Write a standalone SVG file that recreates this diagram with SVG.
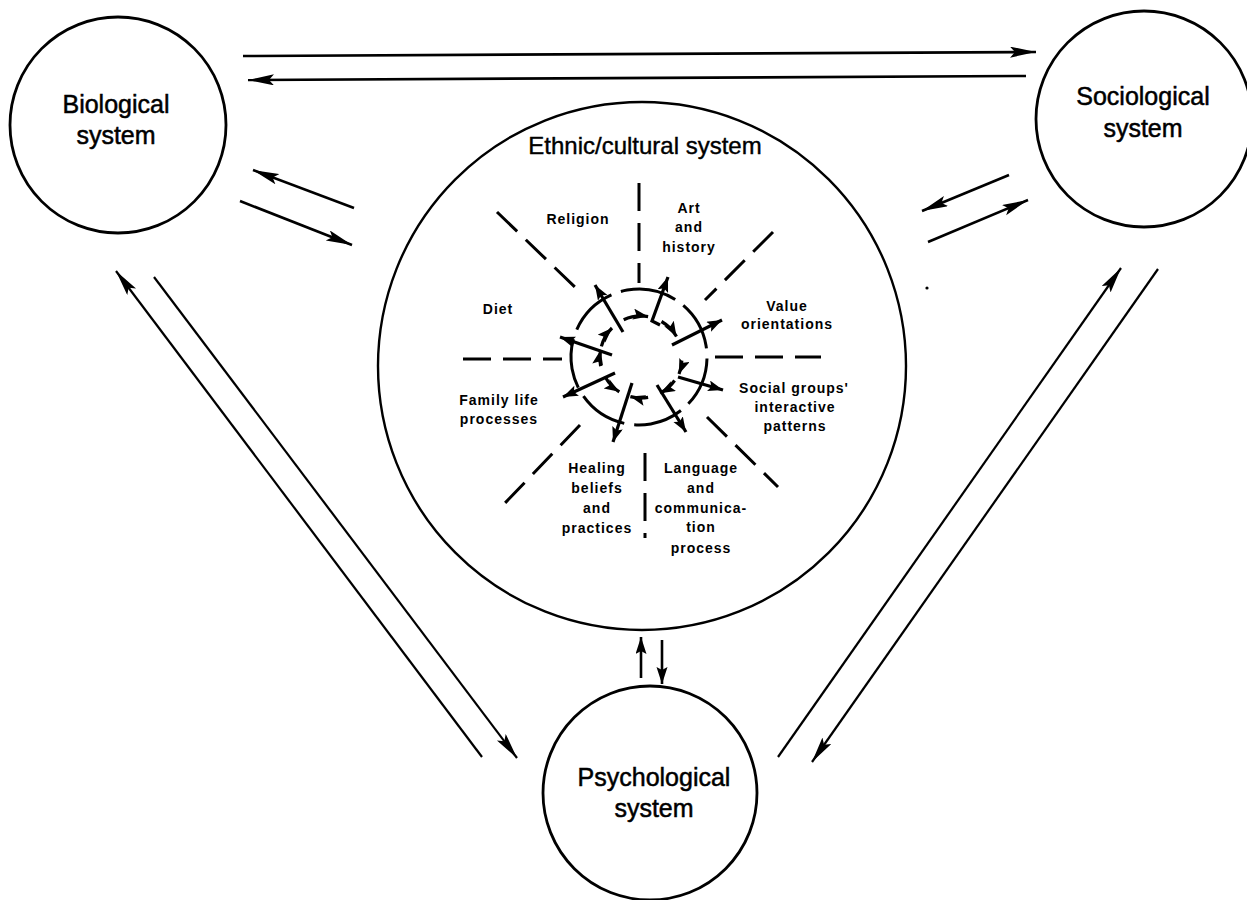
<svg xmlns="http://www.w3.org/2000/svg" width="1247" height="900" viewBox="0 0 1247 900">
<defs>
<style>
.node{fill:#fff;stroke:#000;stroke-width:2.8}
.big{font-family:"Liberation Sans",Arial,sans-serif;font-size:25px;fill:#000;stroke:#000;stroke-width:0.5;text-anchor:middle}
.title{font-family:"Liberation Sans",Arial,sans-serif;font-size:24px;fill:#000;stroke:#000;stroke-width:0.4;text-anchor:middle}
.lbl{font-family:"Liberation Sans",Arial,sans-serif;font-size:14px;font-weight:bold;letter-spacing:1px;fill:#000;text-anchor:middle}
.con{stroke:#000;stroke-width:2.6;fill:none}
.thin{stroke:#000;stroke-width:2.2;fill:none}
.dash{stroke:#000;stroke-width:3;fill:none;stroke-dasharray:28 12}
.ring{stroke:#000;stroke-width:3;fill:none;stroke-dasharray:50 10}
.inner{stroke:#000;stroke-width:3.2;fill:none}
</style>
<marker id="ah" markerUnits="userSpaceOnUse" markerWidth="28" markerHeight="12" refX="26" refY="5.5" orient="auto">
<path d="M0,0 L26,5.5 L0,11 L5,5.5 z" fill="#000"/>
</marker>
<marker id="as" markerUnits="userSpaceOnUse" markerWidth="18" markerHeight="12" refX="17" refY="5.5" orient="auto">
<path d="M0,0 L17,5.5 L0,11 L3,5.5 z" fill="#000"/>
</marker>
<marker id="ai" markerUnits="userSpaceOnUse" markerWidth="16" markerHeight="12" refX="15" refY="5.5" orient="auto">
<path d="M0,0 L15,5.5 L0,11 L3,5.5 z" fill="#000"/>
</marker>
</defs>
<rect width="1247" height="900" fill="#fff"/>

<g id="connectors">
<line class="con" x1="243" y1="56" x2="1036" y2="52" marker-end="url(#ah)"/>
<line class="con" x1="1026" y1="76" x2="248" y2="80" marker-end="url(#ah)"/>
<line class="con" x1="354" y1="208" x2="253" y2="170" marker-end="url(#ah)"/>
<line class="con" x1="240" y1="201" x2="352" y2="245" marker-end="url(#ah)"/>
<line class="con" x1="1009" y1="175" x2="922" y2="211" marker-end="url(#ah)"/>
<line class="con" x1="928" y1="242" x2="1028" y2="200" marker-end="url(#ah)"/>
<line class="thin" x1="482" y1="757" x2="116" y2="271" marker-end="url(#ah)"/>
<line class="thin" x1="154" y1="277" x2="517" y2="758" marker-end="url(#ah)"/>
<line class="thin" x1="778" y1="757" x2="1121" y2="268" marker-end="url(#ah)"/>
<line class="thin" x1="1158" y1="269" x2="812" y2="762" marker-end="url(#ah)"/>
<line class="con" x1="641" y1="678" x2="641" y2="637" marker-end="url(#as)"/>
<line class="con" x1="662" y1="640" x2="662" y2="684" marker-end="url(#as)"/>
<circle cx="927" cy="288" r="1.6" fill="#000"/>
</g>

<g id="biological">
<circle class="node" cx="118" cy="125" r="108"/>
<text class="big" x="116" y="113">Biological</text>
<text class="big" x="116" y="144">system</text>
</g>

<g id="sociological">
<circle class="node" cx="1144" cy="119" r="108"/>
<text class="big" x="1143" y="105">Sociological</text>
<text class="big" x="1143" y="137">system</text>
</g>

<g id="psychological">
<circle class="node" cx="650" cy="793" r="107"/>
<text class="big" x="654" y="786">Psychological</text>
<text class="big" x="654" y="817">system</text>
</g>

<g id="ethnic">
<circle class="node" cx="642" cy="366" r="264" style="stroke-width:2.4"/>
<text class="title" x="645" y="154">Ethnic/cultural system</text>

<g id="dividers">
<line class="dash" x1="639" y1="183" x2="639" y2="283"/>
<line class="dash" x1="645" y1="453" x2="645" y2="538"/>
<line class="dash" x1="463" y1="359" x2="562" y2="359"/>
<line class="dash" x1="715" y1="357" x2="821" y2="357"/>
<line class="dash" x1="497" y1="212" x2="580" y2="292"/>
<line class="dash" x1="773" y1="232" x2="705" y2="300"/>
<line class="dash" x1="580" y1="425" x2="505" y2="503"/>
<line class="dash" x1="707" y1="417" x2="778" y2="487"/>
</g>

<circle class="ring" cx="639" cy="357" r="68" transform="rotate(-100 639 357)"/>

<g id="inner-ring">
<path class="inner" d="M623.7,319.8 A41,41 0 0 1 648.1,316.6" marker-end="url(#ai)"/>
<path class="inner" d="M601.4,346.4 A41,41 0 0 1 612,328" marker-end="url(#ai)"/>
<path class="inner" d="M661.5,321.5 A41,41 0 0 1 676.5,336.5" marker-end="url(#ai)"/>
<path class="inner" d="M681.8,360.6 A41,41 0 0 1 679,374" marker-end="url(#ai)"/>
<path class="inner" d="M674.6,380.5 A41,41 0 0 1 660.2,393.2" marker-end="url(#ai)"/>
<path class="inner" d="M648.1,397.4 A41,41 0 0 1 630.4,396.6" marker-end="url(#ai)"/>
<path class="inner" d="M605.5,377.5 A41,41 0 0 0 619.3,391.8" marker-end="url(#ai)"/>
<path class="inner" d="M600.6,366.1 A41,41 0 0 1 600.6,349.9" marker-end="url(#ai)"/>
</g>

<g id="radial">
<line class="inner" x1="623" y1="332" x2="595" y2="285" marker-end="url(#ai)"/>
<polyline class="inner" points="660,325 652,321 668,277" marker-end="url(#ai)"/>
<line class="inner" x1="672" y1="345" x2="722" y2="320" marker-end="url(#ai)"/>
<line class="inner" x1="678" y1="377" x2="723" y2="390" marker-end="url(#ai)"/>
<line class="inner" x1="657" y1="385" x2="686" y2="432" marker-end="url(#ai)"/>
<line class="inner" x1="632" y1="383" x2="613" y2="442" marker-end="url(#ai)"/>
<line class="inner" x1="615" y1="373" x2="563" y2="397" marker-end="url(#ai)"/>
<line class="inner" x1="612" y1="355" x2="560" y2="337" marker-end="url(#ai)"/>
</g>

<g id="labels">
<text class="lbl" x="578" y="224">Religion</text>
<text class="lbl" x="689" y="213">Art</text>
<text class="lbl" x="689" y="232">and</text>
<text class="lbl" x="689" y="252">history</text>
<text class="lbl" x="498" y="314">Diet</text>
<text class="lbl" x="787" y="311">Value</text>
<text class="lbl" x="787" y="329">orientations</text>
<text class="lbl" x="794" y="393">Social groups'</text>
<text class="lbl" x="795" y="412">interactive</text>
<text class="lbl" x="795" y="431">patterns</text>
<text class="lbl" x="499" y="405">Family life</text>
<text class="lbl" x="499" y="424">processes</text>
<text class="lbl" x="597" y="473">Healing</text>
<text class="lbl" x="597" y="493">beliefs</text>
<text class="lbl" x="597" y="513">and</text>
<text class="lbl" x="597" y="533">practices</text>
<text class="lbl" x="701" y="473">Language</text>
<text class="lbl" x="701" y="493">and</text>
<text class="lbl" x="701" y="513">communica-</text>
<text class="lbl" x="701" y="532">tion</text>
<text class="lbl" x="701" y="553">process</text>
</g>
</g>
</svg>
